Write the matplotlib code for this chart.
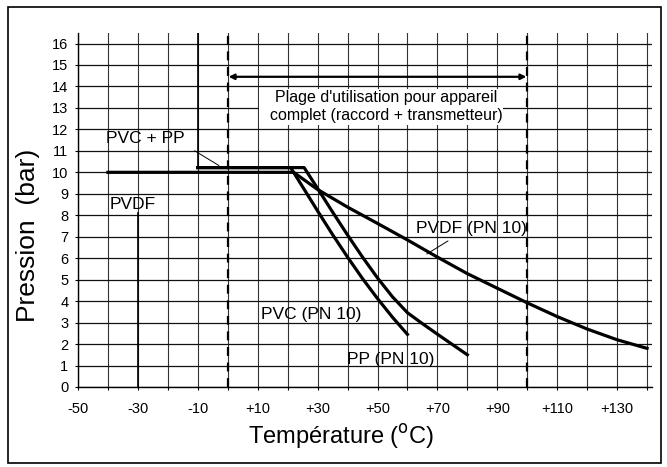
import matplotlib
matplotlib.use("Agg")
import matplotlib.pyplot as plt
from matplotlib.patches import Rectangle

plt.rcParams['font.family'] = ['Liberation Sans', 'DejaVu Sans']

# ---- data ----
pvdf_t = [-40, 22, 30, 40, 50, 60, 70, 80, 90, 100, 110, 120, 130, 140]
pvdf_p = [10, 10, 9.2, 8.38, 7.62, 6.85, 6.05, 5.28, 4.6, 3.92, 3.28, 2.7, 2.2, 1.8]

pvc_t = [-10, 21, 26, 30, 35, 40, 45, 50, 55, 60]
pvc_p = [10.22, 10.22, 9.1, 8.2, 7.1, 6.05, 5.05, 4.12, 3.25, 2.45]

pp_t = [-10, 25.5, 30, 35, 40, 45, 50, 55, 60, 65, 70, 75, 80]
pp_p = [10.22, 10.22, 9.25, 8.15, 7.08, 6.05, 5.08, 4.2, 3.46, 2.95, 2.46, 1.98, 1.5]

x_ticks = list(range(-50, 141, 10))
x_tick_labels = ['-50', '', '-30', '', '-10', '', '+10', '', '+30', '', '+50', '',
                 '+70', '', '+90', '', '+110', '', '+130', '']
y_ticks = list(range(0, 17))
y_tick_labels = [str(v) for v in y_ticks]

range_limits = [0, 100]

W, H = 667, 467
fig = plt.figure(figsize=(W / 100, H / 100), dpi=100)
fig.patch.set_facecolor('white')

x0, x1 = 78, 78 + 191.5 * 2.995
y_top_px, y_bot_px = 33, 387
ax = fig.add_axes([x0 / W, 1 - y_bot_px / H, (x1 - x0) / W, (y_bot_px - y_top_px) / H])
ax.set_xlim(-50, 141.5)
ax.set_ylim(0, 16.49)

ax.set_xticks(x_ticks)
ax.set_xticklabels(x_tick_labels, fontsize=10.5)
ax.set_yticks(y_ticks)
ax.set_yticklabels(y_tick_labels, fontsize=10.5)
ax.tick_params(axis='both', length=2, width=0.8, color='black')
ax.tick_params(axis='x', pad=9)
ax.tick_params(axis='y', pad=5)

for s in ['top', 'right']:
    ax.spines[s].set_visible(False)
for s in ['left', 'bottom']:
    ax.spines[s].set_linewidth(1.0)
    ax.spines[s].set_color('black')

ax.set_axisbelow(True)
ax.xaxis.grid(True, color='#333333', linewidth=0.8)
ax.yaxis.grid(True, color='#111111', linewidth=0.9)

# scan-like thicker guide segments
ax.plot([-10, -10], [10.3, 16.49], color='black', lw=1.2, zorder=1)
ax.plot([-30, -30], [0, 8.1], color='black', lw=1.2, zorder=1)

# white box behind the range text
ax.add_patch(Rectangle((10.5, 12.2), 81.5, 1.7, facecolor='white', edgecolor='none', zorder=1.5))

# dashed vertical range limits
for xv in range_limits:
    ax.plot([xv, xv], [0, 16.49], color='black', lw=1.6, linestyle=(0, (4, 3)), zorder=2)

# double arrow
ax.annotate('', xy=(0.3, 14.45), xytext=(99.7, 14.45),
            arrowprops=dict(arrowstyle='<|-|>', color='black', lw=1.6,
                            mutation_scale=8, shrinkA=0, shrinkB=0), zorder=3)
ax.text(53, 13.08, "Plage d'utilisation pour appareil\ncomplet (raccord + transmetteur)",
        ha='center', va='center', fontsize=11.5, linespacing=1.25, zorder=3)

# curves
lw = 2.3
ax.plot(pvdf_t, pvdf_p, color='black', lw=lw, solid_joinstyle='round', zorder=4)
ax.plot(pvc_t, pvc_p, color='black', lw=lw, solid_joinstyle='round', zorder=4)
ax.plot(pp_t, pp_p, color='black', lw=lw, solid_joinstyle='round', zorder=4)

# labels on the chart
fs = 12.5
ax.text(-40.5, 11.58, 'PVC + PP', fontsize=fs, ha='left', va='center', zorder=5)
ax.plot([-11, -3], [11.0, 10.32], color='black', lw=0.7, zorder=5)
ax.text(-39.5, 8.5, 'PVDF', fontsize=fs, ha='left', va='center', zorder=5)
ax.text(62.7, 7.4, 'PVDF (PN 10)', fontsize=fs, ha='left', va='center', zorder=5)
ax.plot([73.5, 66.5], [6.8, 6.2], color='black', lw=0.7, zorder=5)
ax.text(11.2, 3.36, 'PVC (PN 10)', fontsize=fs, ha='left', va='center', zorder=5)
ax.text(39.8, 1.27, 'PP (PN 10)', fontsize=fs, ha='left', va='center', zorder=5)

# axis titles
fig.text(341 / W, 1 - 437 / H, r'Température ($^{\mathrm{o}}$C)', fontsize=17,
         ha='center', va='center')
fig.text(28 / W, 1 - 235 / H, 'Pression  (bar)', fontsize=19, rotation=90,
         ha='center', va='center')

# outer border
fig.add_artist(Rectangle((8 / W, 1 - 463 / H), (661 - 8) / W, (463 - 7) / H,
                         transform=fig.transFigure, facecolor='none',
                         edgecolor='black', lw=1.2))

fig.savefig('out.png', dpi=100, facecolor='white')
